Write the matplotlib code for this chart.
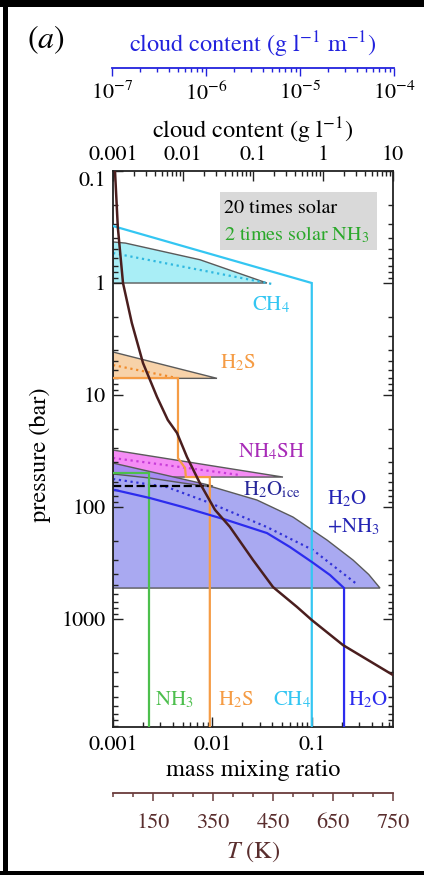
import matplotlib
matplotlib.use('Agg')
import matplotlib.pyplot as plt
from matplotlib.patches import Rectangle
from matplotlib.ticker import LogLocator, FixedLocator, FixedFormatter, NullFormatter, MultipleLocator

plt.rcParams['font.family'] = ['STIXGeneral', 'DejaVu Sans']
plt.rcParams['mathtext.fontset'] = 'stix'

# ---------------- data ----------------
# temperature profile (K) vs pressure (bar)
T_prof = [55, 62, 75, 97, 125, 160, 187, 210, 235, 267, 305, 342, 400, 450, 510, 547, 625, 750]
p_Tprof = [0.1, 0.316, 1.0, 2.27, 5.18, 10.4, 16.7, 21.8, 35.8, 61, 106, 150, 297, 518, 780, 1021, 1708, 3162]

# mass mixing ratio profiles
ch4_mmr = [0.001, 0.0995, 0.0995]
ch4_p = [0.31, 1.0, 9200]
h2s_mmr = [0.001, 0.0045, 0.0045, 0.0053, 0.0054, 0.0094, 0.0094]
h2s_p = [7.05, 7.05, 36.5, 44.9, 54, 54, 9200]
nh3_mmr = [0.001, 0.0023, 0.0023]
nh3_p = [49.7, 49.7, 9200]
h2o_mmr = [0.00105, 0.00235, 0.00505, 0.014, 0.0353, 0.0601, 0.1, 0.152, 0.21, 0.21]
h2o_p = [70.5, 83.1, 100, 130.8, 170.8, 227.6, 310, 405, 529, 9200]

# cloud contents (g/l) - 20 times solar
ch4_cc = [0.001, 0.0015, 0.0175, 0.158, 0.001]
ch4_cp = [0.43, 0.44, 0.62, 1.0, 1.0]
h2s_cc = [0.001, 0.0306, 0.001]
h2s_cp = [4.13, 7.1, 7.1]
nh4sh_cc = [0.001, 0.268, 0.001]
nh4sh_cp = [31, 54, 54]
ice_cc = [0.001, 0.0268, 0.001]
ice_cp = [40.5, 64.9, 64.9]
h2o_cc = [0.001, 0.00338, 0.01, 0.0268, 0.114, 0.373, 1.14, 2.68, 4.5, 6.52, 0.001]
h2o_cp = [50.7, 55.1, 61.1, 66.3, 86.6, 122.9, 197, 297, 400, 529, 529]

# cloud contents - 2 times solar NH3 (dotted)
ch4_cc2 = [0.001, 0.187]
ch4_cp2 = [0.54, 1.02]
h2s_cc2 = [0.001, 0.0082]
h2s_cp2 = [5.4, 7.05]
nh4sh_cc2 = [0.001, 0.065]
nh4sh_cp2 = [36.5, 51.8]
h2o_cc2 = [0.001, 0.0059, 0.0243, 0.158, 0.719, 3.16]
h2o_cp2 = [56.2, 66.3, 92, 151, 242, 497]
ice_base_cc = [0.001, 0.0243]
ice_base_p = [64.9, 64.9]

p_ticks = [0.1, 1, 10, 100, 1000]
p_labels = ['0.1', '1', '10', '100', '1000']
mmr_ticks = [0.001, 0.01, 0.1]
mmr_labels = ['0.001', '0.01', '0.1']
cc_ticks = [0.001, 0.01, 0.1, 1, 10]
cc_labels = ['0.001', '0.01', '0.1', '1', '10']
ccm_ticks = [1e-7, 1e-6, 1e-5, 1e-4]
T_ticks = [150, 300, 450, 600, 750]
T_labels = ['150', '350', '450', '650', '750']

# ---------------- colours ----------------
C_CH4 = '#34c6f2'
C_CH4F = '#a9eef6'
C_H2S = '#f59c45'
C_H2SF = '#f7d2a9'
C_NH4SH = '#f58cf5'
C_ICE = '#a68cf3'
C_H2OF = '#a9a9f1'
C_H2O = '#2c2cee'
C_NH3 = '#4dbf4d'
C_T = '#4a1e1e'
C_TAX = '#6a3c3c'
EDGE = '#5a5a5a'

W, H = 424, 875


def rect(x0, y0, x1, y1):
    return [x0 / W, 1 - y1 / H, (x1 - x0) / W, (y1 - y0) / H]


def ftext(x, y, s, **kw):
    fig.text(x / W, 1 - y / H, s, **kw)


fig = plt.figure(figsize=(W / 100, H / 100), dpi=100)

axC = fig.add_axes(rect(113, 171, 393, 727))
ax = axC.twiny()
axT = axC.twiny()

axC.set_xscale('log')
axC.set_yscale('log')
axC.set_xlim(0.001, 10)
axC.set_ylim(9200, 0.1)
ax.set_xscale('log')
ax.set_xlim(0.001, 0.652)
axT.set_xlim(50, 750)

# ---- clouds (cloud content axis) ----
ekw = dict(edgecolor=EDGE, linewidth=1.0)
axC.fill(ch4_cc, ch4_cp, facecolor=C_CH4F, **ekw)
axC.fill(h2s_cc, h2s_cp, facecolor=C_H2SF, **ekw)
axC.fill(nh4sh_cc, nh4sh_cp, facecolor=C_NH4SH, **ekw)
axC.fill(ice_cc, ice_cp, facecolor=C_ICE, **ekw)
axC.fill(h2o_cc, h2o_cp, facecolor=C_H2OF, **ekw)

axC.plot(ch4_cc2, ch4_cp2, ':', color='#2fb8e0', lw=1.6)
axC.plot(h2s_cc2, h2s_cp2, ':', color='#f08a2a', lw=1.6)
axC.plot(nh4sh_cc2, nh4sh_cp2, ':', color='#c83cd8', lw=1.6)
axC.plot(h2o_cc2, h2o_cp2, ':', color='#3232d8', lw=1.6)
axC.plot(ice_base_cc, ice_base_p, '--', color='black', lw=1.6)

# ---- mixing ratio profiles ----
lkw = dict(lw=1.6, solid_joinstyle='miter')
ax.plot(ch4_mmr, ch4_p, color=C_CH4, **lkw)
ax.plot(h2s_mmr, h2s_p, color=C_H2S, **lkw)
ax.plot(nh3_mmr, nh3_p, color=C_NH3, **lkw)
ax.plot(h2o_mmr, h2o_p, color=C_H2O, **lkw)

# ---- temperature profile ----
axT.plot(T_prof, p_Tprof, color=C_T, lw=1.8)

# ---------------- axes styling ----------------
FS = 16
axC.xaxis.set_ticks_position('top')
axC.xaxis.set_label_position('top')
axC.xaxis.set_major_locator(FixedLocator(cc_ticks))
axC.xaxis.set_major_formatter(FixedFormatter(cc_labels))
axC.xaxis.set_minor_locator(LogLocator(base=10, subs=range(2, 10)))
axC.xaxis.set_minor_formatter(NullFormatter())
axC.yaxis.set_major_locator(FixedLocator(p_ticks))
axC.yaxis.set_major_formatter(FixedFormatter(p_labels))
axC.yaxis.set_minor_locator(LogLocator(base=10, subs=range(2, 10)))
axC.yaxis.set_minor_formatter(NullFormatter())
axC.tick_params(axis='both', which='both', direction='in', color='#222222', width=1.0)
axC.tick_params(axis='both', which='major', length=7, labelsize=FS)
axC.tick_params(axis='both', which='minor', length=3.5)
axC.tick_params(axis='y', which='both', left=True, right=True, labelleft=True, labelright=False, pad=5)
axC.tick_params(axis='x', which='both', top=True, bottom=False, labeltop=True, labelbottom=False, pad=4)
axC.set_xlabel('cloud content (g l$^{-1}$)', fontsize=17.5, labelpad=5)
for s in axC.spines.values():
    s.set_linewidth(1.3)
    s.set_color('#222222')
axC.yaxis.get_major_ticks()[0].label1.set_verticalalignment('top')

# mixing ratio (bottom)
for s in ax.spines.values():
    s.set_visible(False)
ax.xaxis.set_ticks_position('bottom')
ax.xaxis.set_label_position('bottom')
ax.xaxis.set_major_locator(FixedLocator(mmr_ticks))
ax.xaxis.set_major_formatter(FixedFormatter(mmr_labels))
ax.xaxis.set_minor_locator(LogLocator(base=10, subs=range(2, 10)))
ax.xaxis.set_minor_formatter(NullFormatter())
ax.tick_params(axis='x', which='both', direction='in', color='#222222', width=1.0, pad=6,
               top=False, bottom=True, labeltop=False, labelbottom=True)
ax.tick_params(axis='x', which='major', length=7, labelsize=FS)
ax.tick_params(axis='x', which='minor', length=3.5)
ax.set_xlabel('mass mixing ratio', fontsize=17.5, labelpad=3)

# temperature axis
for k, s in axT.spines.items():
    s.set_visible(k == 'bottom')
axT.spines['bottom'].set_position(('outward', 47.5))
axT.spines['bottom'].set_color(C_TAX)
axT.spines['bottom'].set_linewidth(1.3)
axT.xaxis.set_ticks_position('bottom')
axT.xaxis.set_label_position('bottom')
axT.xaxis.set_major_locator(FixedLocator(T_ticks))
axT.xaxis.set_major_formatter(FixedFormatter(T_labels))
axT.xaxis.set_minor_locator(MultipleLocator(50))
axT.tick_params(axis='x', which='both', direction='out', color=C_TAX, width=1.1,
                labelcolor='#5a2e2e', top=False, bottom=True, labeltop=False, labelbottom=True)
axT.tick_params(axis='x', which='major', length=5.5, labelsize=FS, pad=9)
axT.tick_params(axis='x', which='minor', length=3)
axT.set_xlabel('$T$ (K)', fontsize=17.5, color='#5a2e2e', labelpad=5)

# cloud content per metre (blue, top)
axB = fig.add_axes(rect(112, 66, 394, 68))
axB.patch.set_visible(False)
for k, s in axB.spines.items():
    s.set_visible(k == 'bottom')
axB.spines['bottom'].set_color('#2222dd')
axB.spines['bottom'].set_linewidth(1.3)
axB.set_xscale('log')
axB.set_xlim(1e-7, 1e-4)
axB.set_yticks([])
axB.xaxis.set_major_locator(FixedLocator(ccm_ticks))
axB.xaxis.set_minor_locator(LogLocator(base=10, subs=range(2, 10)))
axB.xaxis.set_minor_formatter(NullFormatter())
axB.tick_params(axis='x', which='both', direction='out', color='#2222dd', width=1.0)
axB.tick_params(axis='x', which='major', length=6, labelsize=FS, pad=4)
axB.tick_params(axis='x', which='minor', length=3)
ftext(253, 45, 'cloud content (g l$^{-1}$ m$^{-1}$)', color='#2222dd', fontsize=17.5,
      ha='center', va='center')

# legend box
axC.add_patch(Rectangle(((220 - 113) / 280, (727 - 250) / 556), 157 / 280, 58 / 556,
                        transform=axC.transAxes, facecolor='#d9d9d9', edgecolor='none', zorder=5))
ftext(224, 213, '20 times solar', color='black', fontsize=14.5, ha='left', va='baseline', zorder=6)
ftext(224, 240, '2 times solar NH$_3$', color='#2aa82a', fontsize=14.5, ha='left', va='baseline', zorder=6)

# cloud labels
LS = 15
ftext(252, 310, 'CH$_4$', color=C_CH4, fontsize=LS, ha='left', va='baseline')
ftext(220, 368, 'H$_2$S', color=C_H2S, fontsize=LS, ha='left', va='baseline')
ftext(238, 457, 'NH$_4$SH', color='#a82cb8', fontsize=LS, ha='left', va='baseline')
ftext(243, 495, 'H$_2$O$_{\\rm ice}$', color='#28289a', fontsize=LS, ha='left', va='baseline')
ftext(327, 504, 'H$_2$O', color='#2424b4', fontsize=LS, ha='left', va='baseline')
ftext(327, 532, '+NH$_3$', color='#2424b4', fontsize=LS, ha='left', va='baseline')

ftext(155, 705, 'NH$_3$', color=C_NH3, fontsize=LS, ha='left', va='baseline')
ftext(218, 705, 'H$_2$S', color=C_H2S, fontsize=LS, ha='left', va='baseline')
ftext(273, 705, 'CH$_4$', color=C_CH4, fontsize=LS, ha='left', va='baseline')
ftext(348, 705, 'H$_2$O', color=C_H2O, fontsize=LS, ha='left', va='baseline')

# panel label and pressure label
ftext(46, 40, '($a$)', fontsize=23, ha='center', va='center')
ftext(40, 455, 'pressure (bar)', fontsize=17.5, rotation=90, ha='center', va='center')

# black frame pieces
fig.patches.append(Rectangle((0, 1 - 7 / H), 1, 7 / H, transform=fig.transFigure,
                             facecolor='black', edgecolor='none'))
fig.patches.append(Rectangle((3 / W, 0), 5 / W, 1, transform=fig.transFigure,
                             facecolor='black', edgecolor='none'))
fig.patches.append(Rectangle((0, 0), 1, 4 / H, transform=fig.transFigure,
                             facecolor='black', edgecolor='none'))

fig.savefig('out.png', dpi=100)
